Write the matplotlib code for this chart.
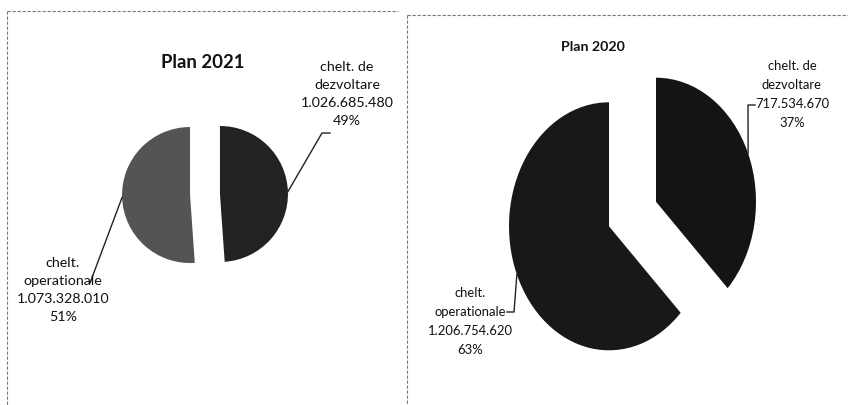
import numpy as np
import matplotlib.pyplot as plt
from matplotlib.lines import Line2D

W, H = 848, 405

# data: order is clockwise from 12 o'clock (dezvoltare first)
categories = ["chelt. de\ndezvoltare", "chelt.\noperationale"]
titles = ["Plan 2021", "Plan 2020"]
values_2021 = [1026685480, 1073328010]
values_2020 = [717534670, 1206754620]

plt.rcParams["font.family"] = ["Lato", "DejaVu Sans"]


def fmt(v):
    return f"{v:,}".replace(",", ".")


def fig_xy(x, y):
    # pixel (from top-left) -> figure fraction
    return x / W, 1 - y / H


fig = plt.figure(figsize=(W / 100, H / 100), dpi=100)

panels = [
    dict(values=values_2021, title=titles[0], center=(205, 194.5), rx=68, ry=68,
         explode=[0.22, 0.22], colors=["#222222", "#545454"],
         title_xy=(203, 62), title_size=13.3, label_size=10.3, spacing=1.6,
         label_xy=[(347, 94), (63, 290)],
         elbows=[[(322, 133), (330, 133)], [(90, 283)]]),
    dict(values=values_2020, title=titles[1], center=(632.5, 214), rx=100, ry=124,
         explode=[0.255, 0.255], colors=["#141414", "#181818"],
         title_xy=(593, 47), title_size=10.2, label_size=9.4, spacing=1.7,
         label_xy=[(792, 94.5), (470, 321.5)],
         elbows=[[(748, 105), (755, 105)], [(514, 312), (507, 312)]]),
]

for p in panels:
    ax = fig.add_axes([0, 0, 1, 1])
    ax.axis("off")
    vals = np.array(p["values"], dtype=float)
    ax.pie(vals, explode=p["explode"], colors=p["colors"], startangle=90,
           counterclock=False, wedgeprops=dict(linewidth=0))
    cx, cy, rx, ry = *p["center"], p["rx"], p["ry"]
    ax.set_aspect("auto")
    ax.set_xlim(-cx / rx, (W - cx) / rx)
    ax.set_ylim((cy - H) / ry, cy / ry)

    def to_data(x, y):
        return (x - cx) / rx, (cy - y) / ry

    ax.text(*to_data(*p["title_xy"]), p["title"], ha="center", va="center",
            fontsize=p["title_size"], fontweight="bold", color="#111111")

    frac = vals / vals.sum()
    start = 90.0
    for i, f in enumerate(frac):
        mid = np.deg2rad(start - f * 180)
        start -= f * 360
        ex = p["explode"][i]
        ax_pt = ((1 + ex) * np.cos(mid), (1 + ex) * np.sin(mid))
        pts = [ax_pt] + [to_data(*e) for e in p["elbows"][i]]
        xs, ys = zip(*pts)
        ax.plot(xs, ys, color="#222222", lw=1.0)
        txt = f"{categories[i]}\n{fmt(int(vals[i]))}\n{round(f * 100):.0f}%"
        ax.text(*to_data(*p["label_xy"][i]), txt, ha="center", va="center",
                multialignment="center", fontsize=p["label_size"],
                linespacing=p["spacing"], color="#111111")

# panel borders (scanned chart frames)
frame = dict(color="#7a7a7a", lw=0.8, linestyle=(0, (3, 1.5)))
for seg in [[(7, 11), (398, 11)], [(7, 11), (7, 405)],
            [(407, 15), (848, 15)], [(407, 15), (407, 405)]]:
    (x0, y0), (x1, y1) = fig_xy(*seg[0]), fig_xy(*seg[1])
    fig.add_artist(Line2D([x0, x1], [y0, y1], transform=fig.transFigure, **frame))

fig.savefig("out.png", dpi=100)
